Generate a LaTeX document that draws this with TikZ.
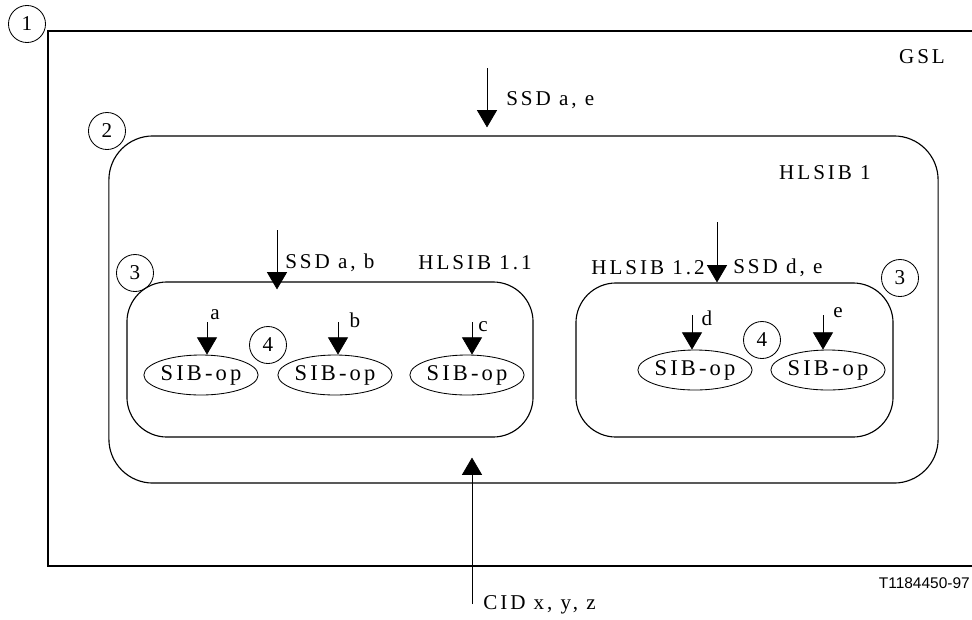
\documentclass[tikz,border=0pt]{standalone}
\usepackage{fontspec}
\setmainfont{Liberation Serif}[LetterSpace=14]
\newfontfamily\tagfont{Liberation Sans}
\usetikzlibrary{arrows.meta,shapes.geometric}

\tikzset{
	every node/.style={font=\fontsize{15}{17}\selectfont},
	lbl/.style={inner sep=0pt},
	box/.style={draw, line width=0.8pt, rounded corners=1cm, inner sep=0pt},
	num/.style={draw, circle, line width=0.6pt, minimum size=0.925cm, inner sep=0pt},
	op/.style={draw, ellipse, line width=0.6pt, minimum width=2.825cm, minimum height=1cm, inner sep=0pt, font=\fontsize{16}{18}\selectfont},
	arr/.style={-{Triangle[length=0.43cm,width=0.5cm]}, line width=0.5pt},
}

\begin{document}
\begin{tikzpicture}[x=0.025cm, y=-0.025cm]
	\useasboundingbox (0,0) rectangle (972,619);
	
	% GSL
	\draw[line width=0.8pt] (972,31) -- (48,31) -- (48,566) -- (972,566);
	\node[num] (n1) at (27,24) {1};
	\node[lbl] (gsl) at (922,57) {GSL};
	
	% HLSIB 1
	\node[box, rounded corners=1.1cm, minimum width=20.725cm, minimum height=8.675cm] (hl1) at (523.5,309.5) {};
	\node[num] (n2) at (107,131) {2};
	\node[lbl] (hl1t) at (825,173) {HLSIB 1};
	\coordinate (ae) at (487,68);
	\draw[arr, shorten >=0.2cm] (ae) -- (ae |- hl1.north);
	\node[lbl, anchor=west] (aet) at (506,100) {SSD a, e};
	
	% HLSIB 1.1
	\node[box, minimum width=10.15cm, minimum height=3.875cm] (hl11) at (330,359.5) {};
	\node[num] (n3a) at (135,273) {3};
	\node[lbl] (hl11t) at (475,263) {HLSIB 1.1};
	\coordinate (ab) at (277,230);
	\draw[arr, shorten >=-0.2cm] (ab) -- (ab |- hl11.north);
	\node[lbl, anchor=west] (abt) at (285,263) {SSD a, b};
	\node[num] (n4a) at (268,345) {4};
	
	\node[op] (opa) at (201,375) {SIB-op};
	\node[op] (opb) at (335,375) {SIB-op};
	\node[op] (opc) at (467,375) {SIB-op};
	\coordinate (ta) at (207,322);
	\coordinate (tb) at (338,322);
	\coordinate (tc) at (472,322);
	\draw[arr] (ta) -- (ta |- opa.north);
	\draw[arr] (tb) -- (tb |- opb.north);
	\draw[arr] (tc) -- (tc |- opc.north);
	\node[lbl] (la) at (215,315) {a};
	\node[lbl] (lb) at (355,320) {b};
	\node[lbl] (lc) at (483,327) {c};
	
	% HLSIB 1.2
	\node[box, minimum width=7.925cm, minimum height=3.85cm] (hl12) at (734.5,360) {};
	\node[num] (n3b) at (900,278) {3};
	\node[lbl] (hl12t) at (648,268) {HLSIB 1.2};
	\coordinate (de) at (717,222);
	\draw[arr] (de) -- (de |- hl12.north);
	\node[lbl, anchor=west] (det) at (733,268) {SSD d, e};
	\node[num] (n4b) at (762,340) {4};
	
	\node[op] (opd) at (695,370) {SIB-op};
	\node[op] (ope) at (828,370) {SIB-op};
	\coordinate (td) at (692,315);
	\coordinate (te) at (823,315);
	\draw[arr] (td) -- (td |- opd.north);
	\draw[arr] (te) -- (te |- ope.north);
	\node[lbl] (ld) at (707,318) {d};
	\node[lbl] (le) at (838,313) {e};
	
	% CID
	\coordinate (cid) at (472,604);
	\draw[arr, shorten >=0.5cm] (cid) -- (cid |- hl11.south);
	\node[lbl, anchor=west] (cidt) at (483,605) {CID x, y, z};
	
	\node[lbl, anchor=east, font=\tagfont\fontsize{11}{13}\selectfont] (tag) at (970,583) {T1184450-97};
\end{tikzpicture}
\end{document}
